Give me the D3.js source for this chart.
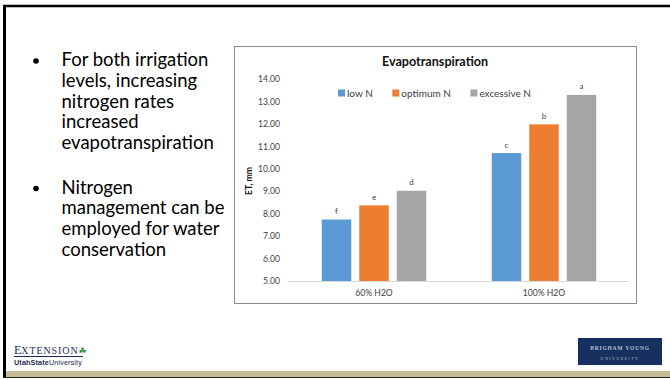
<!DOCTYPE html>
<html>
<head>
<meta charset="utf-8">
<script src="https://cdn.jsdelivr.net/npm/d3@7"></script>
<style>
  body { margin: 0; background: #fff; }
  svg { display: block; font-family: Lato, "Open Sans", sans-serif; }
</style>
</head>
<body>
<div id="vis"></div>
<script>
// chart data
var categories = ["60% H2O", "100% H2O"];
var seriesNames = ["low N", "optimum N", "excessive N"];
var lowN = [7.74, 10.70];
var optimumN = [8.37, 11.98];
var excessiveN = [9.02, 13.29];
var lowLetters = ["f", "c"];
var optimumLetters = ["e", "b"];
var excessiveLetters = ["d", "a"];
var yTicks = [5, 6, 7, 8, 9, 10, 11, 12, 13, 14];
var colors = ["#5B9BD5", "#ED7D31", "#A5A5A5"];

var bullet1 = ["For both irrigation", "levels, increasing", "nitrogen rates", "increased", "evapotranspiration"];
var bullet2 = ["Nitrogen", "management can be", "employed for water", "conservation"];

var W = 670, H = 380;
var svg = d3.select("#vis").append("svg").attr("width", W).attr("height", H);

svg.append("rect").attr("width", W).attr("height", H).attr("fill", "#fff");

// slide frame
svg.append("line").attr("x1", 3).attr("x2", W).attr("y1", 6).attr("y2", 6)
    .attr("stroke", "#000").attr("stroke-width", 2.5);
svg.append("line").attr("x1", 4.5).attr("x2", 4.5).attr("y1", 5).attr("y2", 378)
    .attr("stroke", "#000").attr("stroke-width", 3);
svg.append("rect").attr("x", 6).attr("y", 371).attr("width", W - 6).attr("height", 6)
    .attr("fill", "#C6BC98");
svg.append("line").attr("x1", 3).attr("x2", W).attr("y1", 377.5).attr("y2", 377.5)
    .attr("stroke", "#222").attr("stroke-width", 1.2);

// bullet text
function bullets(lines, y0) {
    svg.append("circle").attr("cx", 36).attr("cy", y0).attr("r", 2.8).attr("fill", "#000");
    svg.selectAll(null).data(lines).enter().append("text")
        .attr("x", 61.5)
        .attr("y", function(d, i) { return y0 + 5 + i * 20.8; })
        .attr("font-size", 18.5)
        .attr("fill", "#000")
        .text(function(d) { return d; });
}
bullets(bullet1, 61);
bullets(bullet2, 188.5);

// chart box
svg.append("rect").attr("x", 234.5).attr("y", 46.5).attr("width", 402).attr("height", 257)
    .attr("fill", "#fff").attr("stroke", "#8c8c8c").attr("stroke-width", 1);

var x0 = d3.scaleBand().domain(categories).range([289, 629]).padding(0);
var x1 = d3.scaleBand().domain(seriesNames).range([0, x0.bandwidth()])
    .paddingInner(0.213).paddingOuter(0.873);
var y = d3.scaleLinear().domain([5, 14]).range([281, 79]);

svg.append("text").attr("x", 435).attr("y", 65.5).attr("text-anchor", "middle")
    .attr("font-size", 12.6).attr("font-weight", "bold").attr("fill", "#111")
    .text("Evapotranspiration");

// y axis labels
var yAxis = d3.axisLeft(y).tickValues(yTicks).tickFormat(d3.format(".2f")).tickSize(0).tickPadding(0);
var gy = svg.append("g").attr("transform", "translate(280,0)").call(yAxis);
gy.select(".domain").remove();
gy.selectAll("text").attr("font-size", 8.6).attr("fill", "#404040")
    .attr("font-family", "Lato, sans-serif");

svg.append("text").attr("transform", "translate(251.5,181) rotate(-90)")
    .attr("text-anchor", "middle").attr("font-size", 8.6).attr("font-weight", "bold").attr("fill", "#111")
    .text("ET, mm");

// bars
var rows = categories.map(function(c, i) {
    return { cat: c, vals: [lowN[i], optimumN[i], excessiveN[i]],
             letters: [lowLetters[i], optimumLetters[i], excessiveLetters[i]] };
});
var groups = svg.selectAll(".grp").data(rows).enter().append("g")
    .attr("transform", function(d) { return "translate(" + x0(d.cat) + ",0)"; });
groups.selectAll("rect").data(function(d) {
        return d.vals.map(function(v, j) { return { s: seriesNames[j], v: v, j: j }; });
    }).enter().append("rect")
    .attr("x", function(d) { return x1(d.s); })
    .attr("y", function(d) { return y(d.v); })
    .attr("width", x1.bandwidth())
    .attr("height", function(d) { return y(5) - y(d.v); })
    .attr("fill", function(d) { return colors[d.j]; });
groups.selectAll(".lbl").data(function(d) {
        return d.vals.map(function(v, j) { return { s: seriesNames[j], v: v, t: d.letters[j] }; });
    }).enter().append("text")
    .attr("x", function(d) { return x1(d.s) + x1.bandwidth() / 2; })
    .attr("y", function(d) { return y(d.v) - 5.5; })
    .attr("text-anchor", "middle").attr("font-size", 8).attr("fill", "#404040")
    .text(function(d) { return d.t; });

// baseline + category labels
svg.append("line").attr("x1", 289).attr("x2", 629).attr("y1", y(5) + 0.5).attr("y2", y(5) + 0.5)
    .attr("stroke", "#D9D9D9").attr("stroke-width", 1);
var xAxis = d3.axisBottom(x0).tickSize(0).tickPadding(9);
var gx = svg.append("g").attr("transform", "translate(0," + y(5) + ")").call(xAxis);
gx.select(".domain").remove();
gx.selectAll("text").attr("font-size", 8.6).attr("fill", "#404040")
    .attr("font-family", "Lato, sans-serif");

// legend
var lx = 338;
seriesNames.forEach(function(s, i) {
    svg.append("rect").attr("x", lx).attr("y", 89.5).attr("width", 7).attr("height", 7).attr("fill", colors[i]);
    var t = svg.append("text").attr("x", lx + 9).attr("y", 96.5).attr("font-size", 10)
        .attr("fill", "#404040").text(s);
    lx += 9 + t.node().getComputedTextLength() + 19.5;
});

// footer logos
var ext = svg.append("text").attr("x", 14).attr("y", 353.5)
    .attr("font-family", "Liberation Serif, serif").attr("fill", "#1E2B55");
ext.append("tspan").attr("font-size", 12).text("E");
ext.append("tspan").attr("font-size", 10).attr("letter-spacing", 0.9).text("XTENSION");
ext.append("tspan").attr("font-size", 9).attr("fill", "#2E8B3A").attr("font-family", "DejaVu Sans").text("\u2618");
svg.append("line").attr("x1", 14).attr("x2", 83).attr("y1", 356.5).attr("y2", 356.5)
    .attr("stroke", "#1E2B55").attr("stroke-width", 1);
var usu = svg.append("text").attr("x", 14).attr("y", 365).attr("font-size", 7.2)
    .attr("letter-spacing", 0.15)
    .attr("font-family", "Liberation Sans, sans-serif").attr("fill", "#1E2B55");
usu.append("tspan").attr("font-weight", "bold").text("UtahState");
usu.append("tspan").text("University");

svg.append("rect").attr("x", 578).attr("y", 338).attr("width", 84).attr("height", 27).attr("fill", "#16305F");
svg.append("text").attr("x", 620).attr("y", 350).attr("text-anchor", "middle")
    .attr("font-size", 5.5).attr("font-weight", "bold").attr("letter-spacing", 0.8).attr("font-family", "Liberation Serif, serif")
    .attr("fill", "#B5C0D6").text("BRIGHAM YOUNG");
svg.append("text").attr("x", 620).attr("y", 360).attr("text-anchor", "middle")
    .attr("font-size", 4).attr("letter-spacing", 1.5).attr("font-family", "Liberation Serif, serif")
    .attr("fill", "#B5C0D6").text("UNIVERSITY");
</script>
</body>
</html>
